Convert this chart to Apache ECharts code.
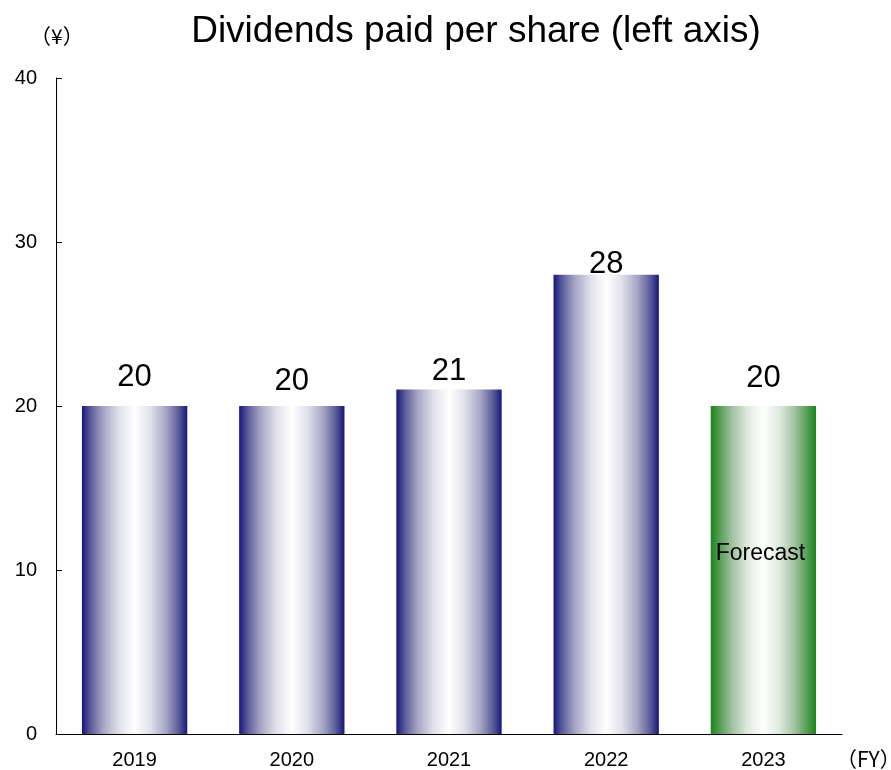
<!DOCTYPE html>
<html>
<head>
<meta charset="utf-8">
<script src="https://cdn.jsdelivr.net/npm/echarts@6/dist/echarts.min.js"></script>
<style>html,body{margin:0;padding:0;background:#fff}#c{width:891px;height:770px}</style>
</head>
<body>
<div id="c"></div>
<script>
const categories = ['2019', '2020', '2021', '2022', '2023'];
const dividends = [20, 20, 21, 28, 20];
const yTicks = [0, 10, 20, 30, 40];
const forecastIndex = 4;
const forecastText = 'Forecast';
const forecastLabelValue = 11.0;

// label lift per bar (style only)
const labelLift = [13, 9, 3, -5, 12];

const F = '"Liberation Sans", Arial, sans-serif';
const navyStops = ['#16167c', '#5a5a98', '#a4a4c4', '#e0e0ea', '#ffffff'];
const greenStops = ['#1b861b', '#529c52', '#a0c0a0', '#dfeadf', '#ffffff'];
function grad(s) {
  const o = [0, 0.08, 0.2, 0.35, 0.5];
  const stops = [];
  o.forEach((v, i) => stops.push({offset: v, color: s[i]}));
  for (let i = o.length - 2; i >= 0; i--) stops.push({offset: 1 - o[i], color: s[i]});
  return new echarts.graphic.LinearGradient(0, 0, 1, 0, stops);
}
const chart = echarts.init(document.getElementById('c'));
chart.setOption({
  animation: false,
  title: {
    text: 'Dividends paid per share (left axis)',
    left: 471, top: 8, textAlign: 'center',
    textStyle: {fontFamily: F, fontSize: 37, fontWeight: 'normal', color: '#000'}
  },
  grid: {left: 56, right: 49, top: 78, bottom: 34},
  xAxis: {
    type: 'category', data: categories,
    axisLine: {lineStyle: {color: '#000', width: 1}},
    axisTick: {inside: true, length: 7, lineStyle: {color: '#000'}},
    axisLabel: {fontFamily: F, fontSize: 20, color: '#000', margin: 16}
  },
  yAxis: {
    type: 'value', min: yTicks[0], max: yTicks[yTicks.length - 1], interval: 10,
    splitLine: {show: false},
    axisLine: {show: true, lineStyle: {color: '#000', width: 1}},
    axisTick: {show: true, inside: true, length: 6, lineStyle: {color: '#000'}},
    axisLabel: {fontFamily: F, fontSize: 20, color: '#000', margin: 19}
  },
  graphic: [
    {type: 'text', left: 30, top: 26, style: {text: '（¥）', font: '21px "Noto Sans CJK JP", sans-serif', fill: '#000'}},
    {type: 'text', left: 836, top: 749, style: {text: '（FY）', font: '21px "Noto Sans CJK JP", sans-serif', fill: '#000'}}
  ],
  series: [{
    type: 'bar',
    barCategoryGap: '33%',
    data: dividends.map((v, i) => ({
      value: v,
      itemStyle: {color: grad(i === forecastIndex ? greenStops : navyStops)},
      label: {distance: labelLift[i]}
    })),
    label: {show: true, position: 'top', fontFamily: F, fontSize: 31, color: '#000'},
    markPoint: {
      symbol: 'circle', symbolSize: 0,
      data: [{coord: [categories[forecastIndex], forecastLabelValue], value: forecastText}],
      label: {show: true, position: 'inside', offset: [-3, 0], formatter: forecastText, fontFamily: F, fontSize: 23, color: '#000'}
    }
  }]
});
</script>
</body>
</html>
